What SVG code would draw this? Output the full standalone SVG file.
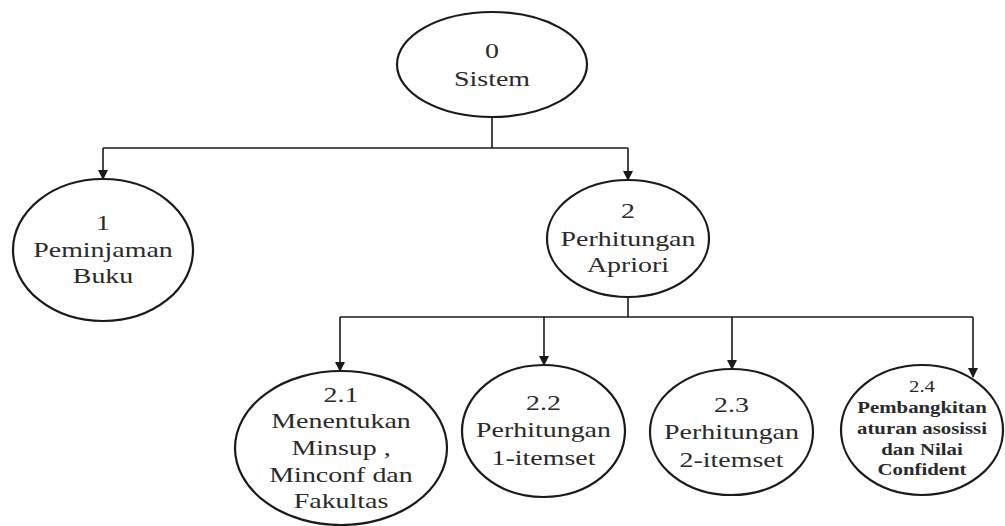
<svg xmlns="http://www.w3.org/2000/svg" width="1005" height="526" viewBox="0 0 1005 526" font-family="Liberation Serif, DejaVu Serif, serif">
<style>
.node{fill:#fff;stroke:#1a1a1a;stroke-width:2.2}
.t{font-family:'Liberation Serif','DejaVu Serif',serif;font-size:21px;fill:#2a2a2a;text-anchor:middle}
.b{font-weight:bold;font-size:16px}
.c{fill:none;stroke:#1a1a1a;stroke-width:1.6}
</style>
<defs>
<marker id="arr" markerWidth="10" markerHeight="10" refX="9" refY="5" orient="auto" markerUnits="userSpaceOnUse">
<path d="M0,0 L10,5 L0,10 Z" fill="#1a1a1a"/>
</marker>
</defs>
<rect width="1005" height="526" fill="#fff"/>
<g id="connectors">
<path class="c" d="M492,117 V148"/>
<path class="c" d="M103,148 H628"/>
<path class="c" d="M103,148 V179" marker-end="url(#arr)"/>
<path class="c" d="M628,148 V180" marker-end="url(#arr)"/>
<path class="c" d="M628,297 V317"/>
<path class="c" d="M340,317 H973"/>
<path class="c" d="M340,317 V371" marker-end="url(#arr)"/>
<path class="c" d="M544,317 V365" marker-end="url(#arr)"/>
<path class="c" d="M732,317 V369" marker-end="url(#arr)"/>
<path class="c" d="M973,317 V377" marker-end="url(#arr)"/>
</g>
<g id="node0">
<ellipse class="node" cx="492" cy="64.5" rx="95" ry="52.5"/>
<text class="t" font-family="Liberation Serif, serif" transform="translate(492 0) scale(1.33 1)"><tspan x="0" y="58">0</tspan><tspan x="0" y="86">Sistem</tspan></text>
</g>
<g id="node1">
<ellipse class="node" cx="103" cy="250" rx="90" ry="71"/>
<text class="t" font-family="Liberation Serif, serif" transform="translate(103 0) scale(1.33 1)"><tspan x="0" y="230">1</tspan><tspan x="0" y="257">Peminjaman</tspan><tspan x="0" y="283">Buku</tspan></text>
</g>
<g id="node2">
<ellipse class="node" cx="628" cy="238.5" rx="81" ry="58.5"/>
<text class="t" font-family="Liberation Serif, serif" transform="translate(628 0) scale(1.33 1)"><tspan x="0" y="218">2</tspan><tspan x="0" y="246">Perhitungan</tspan><tspan x="0" y="272">Apriori</tspan></text>
</g>
<g id="node2_1">
<ellipse class="node" cx="341" cy="448" rx="106" ry="77"/>
<text class="t" font-family="Liberation Serif, serif" transform="translate(341 0) scale(1.33 1)"><tspan x="0" y="402">2.1</tspan><tspan x="0" y="428">Menentukan</tspan><tspan x="0" y="455">Minsup ,</tspan><tspan x="0" y="482">Minconf dan</tspan><tspan x="0" y="508">Fakultas</tspan></text>
</g>
<g id="node2_2">
<ellipse class="node" cx="543.5" cy="431" rx="81.5" ry="66"/>
<text class="t" font-family="Liberation Serif, serif" transform="translate(543.5 0) scale(1.33 1)"><tspan x="0" y="410">2.2</tspan><tspan x="0" y="437">Perhitungan</tspan><tspan x="0" y="465">1-itemset</tspan></text>
</g>
<g id="node2_3">
<ellipse class="node" cx="731.5" cy="432" rx="81.5" ry="63"/>
<text class="t" font-family="Liberation Serif, serif" transform="translate(731.5 0) scale(1.33 1)"><tspan x="0" y="412">2.3</tspan><tspan x="0" y="439">Perhitungan</tspan><tspan x="0" y="467">2-itemset</tspan></text>
</g>
<g id="node2_4">
<ellipse class="node" cx="922" cy="430" rx="81" ry="65"/>
<text class="t" font-family="Liberation Serif, serif" transform="translate(922 0) scale(1.3 1)" style="font-size:16px"><tspan x="0" y="392">2.4</tspan></text>
<text class="t b" font-family="Liberation Serif, serif" transform="translate(922 0) scale(1.3 1)"><tspan x="0" y="413">Pembangkitan</tspan><tspan x="0" y="434">aturan asosissi</tspan><tspan x="0" y="455">dan Nilai</tspan><tspan x="0" y="475">Confident</tspan></text>
</g>
</svg>
